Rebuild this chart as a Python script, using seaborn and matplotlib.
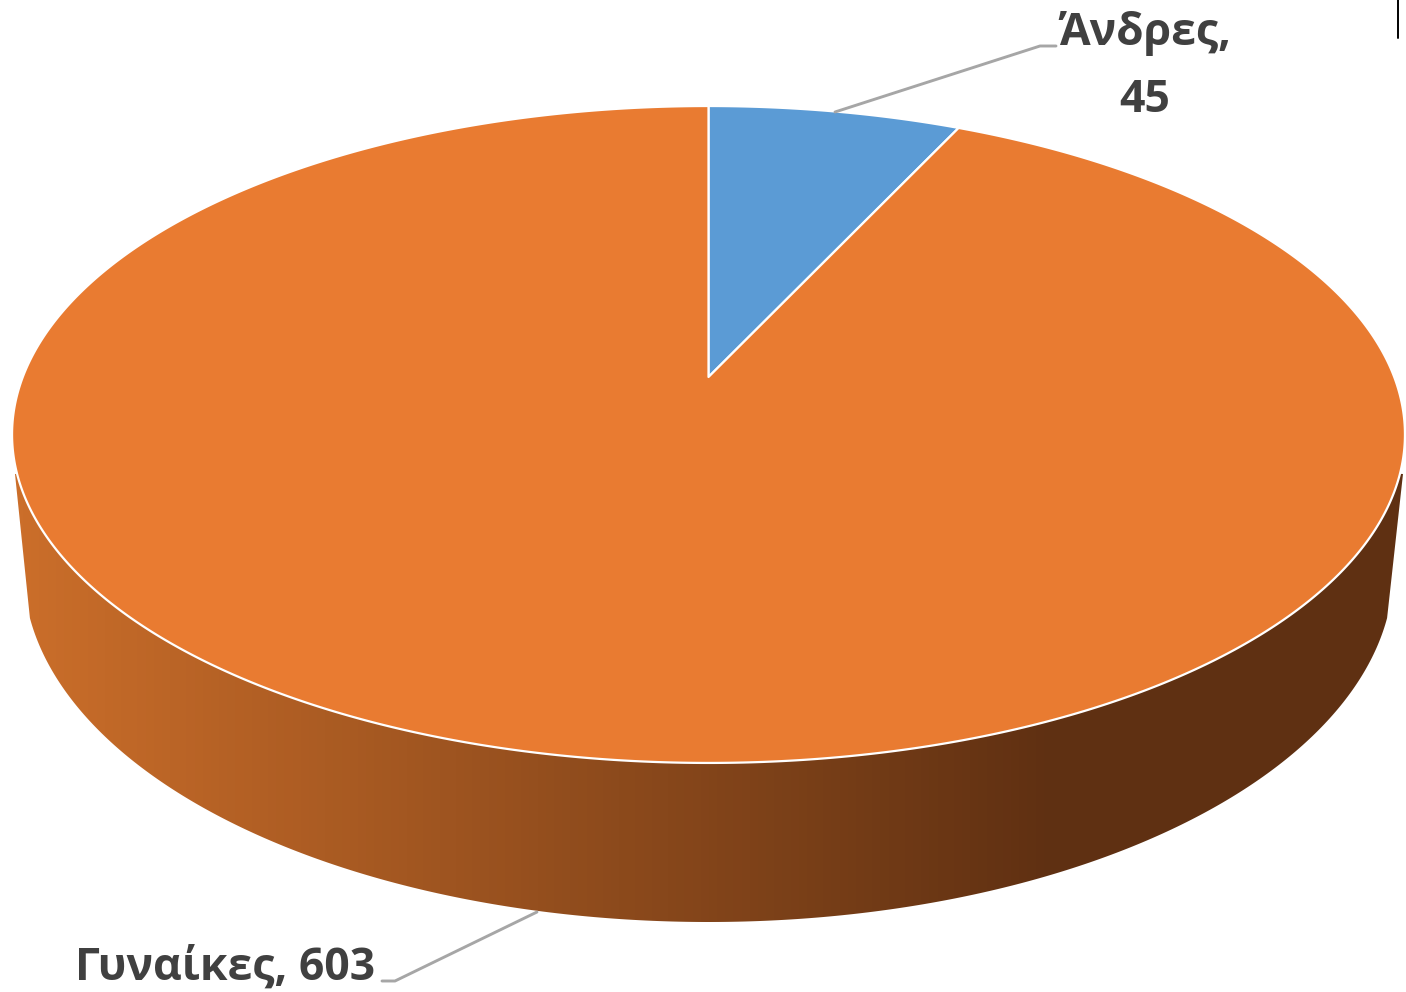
import numpy as np
import matplotlib
matplotlib.use('Agg')
import matplotlib.pyplot as plt
from matplotlib.patches import Polygon
import seaborn as sns

# Data
labels = ['Άνδρες', 'Γυναίκες']
values = [45, 603]
colors = ['#5B9BD5', '#E97B31']

sns.set_theme(style='white')
plt.rcParams['font.family'] = ['Open Sans', 'DejaVu Sans']

fig, ax = plt.subplots(figsize=(14.06, 9.92), dpi=100)
fig.subplots_adjust(0, 0, 1, 1)

# let pie work out the angles, the wedges get redrawn in perspective below
wedges, _ = ax.pie(values, colors=colors, startangle=90, counterclock=False)


# flat circle -> tilted disc, in pixels of the picture
def project(theta, r=1.0):
    cx, cy = 708.5, 377
    a, b, k = 685.7, 318.4, 0.175
    u = r * np.cos(theta)
    v = r * np.sin(theta)
    return cx + a * u / (1 + k * v), cy - b * v / (1 + k * v)


# side wall with the shading
t = np.linspace(np.pi + 0.137, 2 * np.pi - 0.137, 300)
wall_x = 708.5 + 685 * np.cos(t)
wall_y = 570 - 352 * np.sin(t)
wall_pts = np.vstack([[[15, 474]], np.column_stack([wall_x, wall_y]), [[1403, 474]], [[708, 435]]])

shade = sns.blend_palette(['#CB6E2A', '#5F3012'], n_colors=128)
shade = np.array(shade + [shade[-1]] * 42)[np.newaxis, :, :]
im = ax.imshow(shade, extent=(15, 1403, 0, 992), aspect='auto', interpolation='nearest', zorder=1)
clip = Polygon(wall_pts, transform=ax.transData)
im.set_clip_path(clip)

# top of the disc
for w, c in zip(wedges, colors):
    w.set_visible(False)
    a1, a2 = np.deg2rad(w.theta1), np.deg2rad(w.theta2)
    n = int(abs(a2 - a1) * 200) + 2
    tt = np.linspace(a1, a2, n)
    x, y = project(tt)
    x0, y0 = project(0.0, 0.0)
    ax.fill(np.r_[x0, x], np.r_[y0, y], color=c, ec='white', lw=1.6, joinstyle='round', zorder=2)

ax.set_xlim(0, 1406)
ax.set_ylim(992, 0)
ax.set_aspect('auto')
ax.set_axis_off()

# leader lines
ax.plot([835, 1040, 1056], [112, 46, 46], color='#A6A6A6', lw=2.1, zorder=3)
ax.plot([537, 395, 382], [912, 981, 981], color='#A6A6A6', lw=2.1, zorder=3)

# labels
ax.text(1145, 67, f'{labels[0]},\n{values[0]}', ha='center', va='center', fontsize=32,
        fontweight='bold', color='#404040', linespacing=1.62, zorder=4)
ax.text(375, 968, f'{labels[1]}, {values[1]}', ha='right', va='center', fontsize=32,
        fontweight='bold', color='#404040', zorder=4)

# stray mark top right in the original
ax.plot([1398, 1398], [0, 38], color='black', lw=1.4, zorder=4)

plt.savefig('out.png', dpi=100)
